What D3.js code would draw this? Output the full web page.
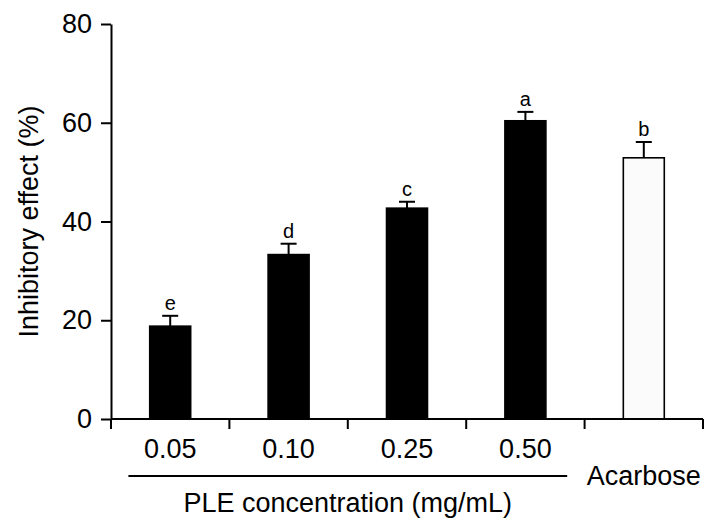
<!DOCTYPE html>
<html>
<head>
<meta charset="utf-8">
<script src="https://cdn.jsdelivr.net/npm/d3@7"></script>
<style>
  html, body { margin: 0; padding: 0; background: #fff; }
  svg { display: block; font-family: "Liberation Sans", Arial, Helvetica, sans-serif; }
</style>
</head>
<body>
<svg id="chart" width="719" height="530"></svg>
<script>
// ---- data ----
const categories = ["0.05", "0.10", "0.25", "0.50", "Acarbose"];
const groups = ["PLE", "PLE", "PLE", "PLE", "Control"];
const values = [18.8, 33.3, 42.7, 60.4, 52.9];
const errors = [2.1, 2.2, 1.3, 1.8, 3.2];
const letters = ["e", "d", "c", "a", "b"];
const yTicks = [0, 20, 40, 60, 80];
const yLabel = "Inhibitory effect (%)";
const groupLabel = "PLE concentration (mg/mL)";

(function () {
const data = categories.map((c, i) => ({
  cat: c, group: groups[i], value: values[i], err: errors[i], letter: letters[i]
}));

const svg = d3.select("#chart");
const mLeft = 111, mRight = 703, mTop = 24, mBottom = 419;

const x = d3.scaleBand().domain(categories).range([mLeft, mRight])
  .paddingInner(0.654).paddingOuter(0.327);
const y = d3.scaleLinear().domain([0, 80]).range([mBottom, mTop]);
const color = d3.scaleOrdinal().domain(["PLE", "Control"]).range(["#000000", "#fbfbfb"]);

// bars
svg.append("g").selectAll("rect").data(data).join("rect")
  .attr("x", d => x(d.cat))
  .attr("y", d => y(d.value))
  .attr("width", x.bandwidth())
  .attr("height", d => y(0) - y(d.value))
  .attr("fill", d => color(d.group))
  .attr("stroke", "#000")
  .attr("stroke-width", 1.6);

// error bars (upper only)
const capW = 16;
const eb = svg.append("g").attr("stroke", "#000").attr("stroke-width", 2);
eb.selectAll("line.v").data(data).join("line").attr("class", "v")
  .attr("x1", d => x(d.cat) + x.bandwidth() / 2)
  .attr("x2", d => x(d.cat) + x.bandwidth() / 2)
  .attr("y1", d => y(d.value))
  .attr("y2", d => y(d.value + d.err));
eb.selectAll("line.c").data(data).join("line").attr("class", "c")
  .attr("x1", d => x(d.cat) + x.bandwidth() / 2 - capW / 2)
  .attr("x2", d => x(d.cat) + x.bandwidth() / 2 + capW / 2)
  .attr("y1", d => y(d.value + d.err))
  .attr("y2", d => y(d.value + d.err));

// significance letters
svg.append("g").selectAll("text").data(data).join("text")
  .attr("x", d => x(d.cat) + x.bandwidth() / 2)
  .attr("y", d => y(d.value + d.err) - 6)
  .attr("text-anchor", "middle")
  .attr("font-size", 20)
  .attr("fill", "#000")
  .text(d => d.letter);

// y axis
const yAxis = svg.append("g").attr("transform", `translate(${mLeft},0)`)
  .call(d3.axisLeft(y).tickValues(yTicks).tickSize(10).tickSizeOuter(0).tickPadding(9));
yAxis.attr("font-family", null).attr("font-size", null);
yAxis.selectAll("path, line").attr("stroke", "#000").attr("stroke-width", 2);
yAxis.selectAll("text").attr("font-size", 27).attr("fill", "#000");

// x axis: baseline + ticks at band boundaries
const boundaries = d3.range(categories.length + 1).map(i => x.range()[0] + i * x.step());
const xg = svg.append("g").attr("stroke", "#000").attr("stroke-width", 2);
xg.append("line").attr("x1", mLeft).attr("x2", mRight).attr("y1", y(0)).attr("y2", y(0));
xg.selectAll("line.t").data(boundaries).join("line").attr("class", "t")
  .attr("x1", d => d).attr("x2", d => d)
  .attr("y1", y(0)).attr("y2", y(0) + 10);

// x labels
svg.append("g").selectAll("text").data(data).join("text")
  .attr("x", d => x(d.cat) + x.bandwidth() / 2)
  .attr("y", d => d.group === "PLE" ? 458 : 485)
  .attr("text-anchor", "middle")
  .attr("font-size", 27)
  .attr("fill", "#000")
  .text(d => d.cat);

// group underline and label
const pleCats = data.filter(d => d.group === "PLE").map(d => d.cat);
const gx0 = x(pleCats[0]) - x.step() * 0.18;
const gx1 = x(pleCats[pleCats.length - 1]) + x.bandwidth() + x.step() * 0.18;
svg.append("line").attr("x1", gx0).attr("x2", gx1).attr("y1", 476).attr("y2", 476)
  .attr("stroke", "#000").attr("stroke-width", 2);
svg.append("text").attr("x", (gx0 + gx1) / 2).attr("y", 512)
  .attr("text-anchor", "middle").attr("font-size", 27).attr("fill", "#000")
  .text(groupLabel);

// y label
svg.append("text")
  .attr("transform", `translate(38,${(mTop + mBottom) / 2}) rotate(-90)`)
  .attr("text-anchor", "middle").attr("font-size", 27).attr("fill", "#000")
  .text(yLabel);
})();
</script>
</body>
</html>
